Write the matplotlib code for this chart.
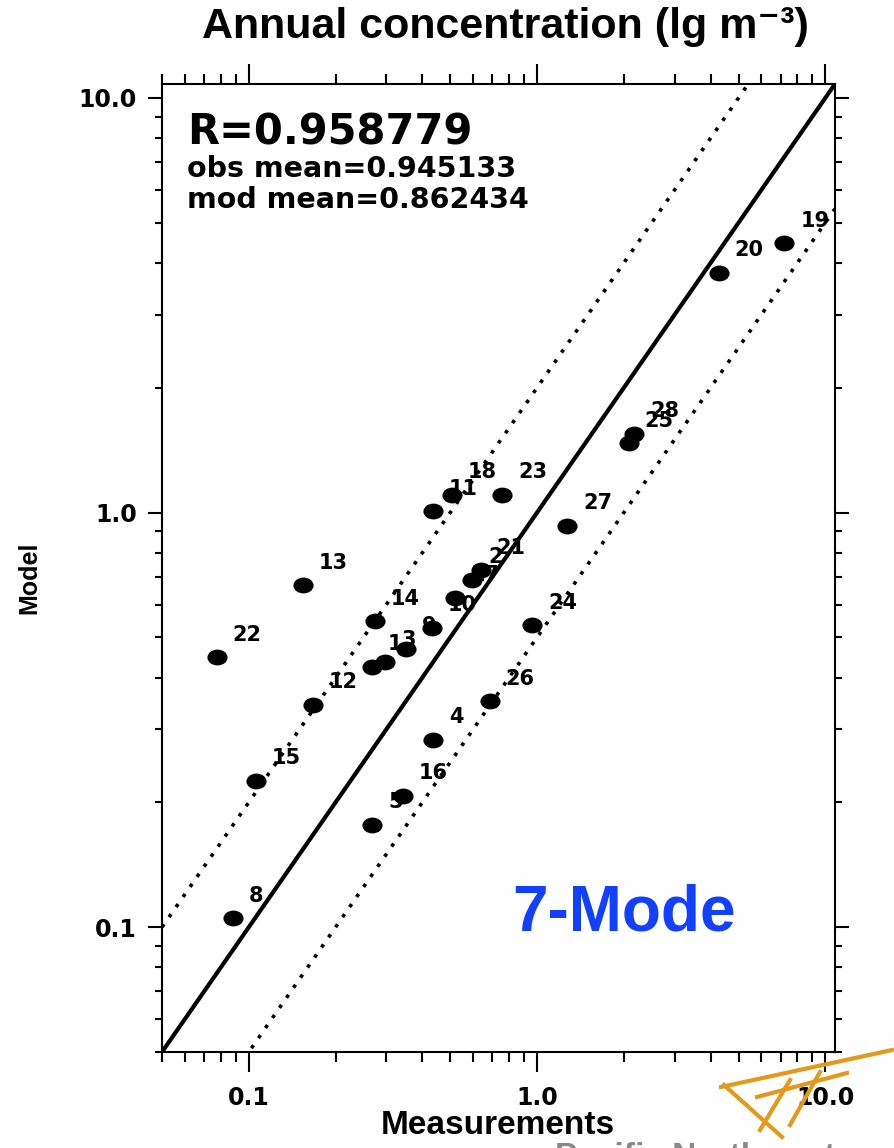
"""Annual concentration scatter — model vs measurements, 7-Mode."""

import matplotlib

matplotlib.use("Agg")
import matplotlib.pyplot as plt
import numpy as np
from matplotlib.path import Path
from matplotlib.ticker import FixedLocator, LogLocator, NullFormatter
from matplotlib.transforms import Affine2D

# site numbers and values
site_ids = ["19", "20", "28", "25", "27", "23", "18", "11", "13", "22", "14", "10", "17",
            "21", "2", "9", "3", "1", "12", "15", "8", "5", "16", "4", "26", "24"]
measured = [7.20, 4.27, 2.17, 2.08, 1.275, 0.756, 0.507, 0.435, 0.154, 0.0774, 0.273, 0.432, 0.518,
            0.637, 0.595, 0.350, 0.298, 0.268, 0.167, 0.106, 0.088, 0.268, 0.3425, 0.435, 0.685, 0.961]
modelled = [4.46, 3.79, 1.55, 1.47, 0.930, 1.103, 1.103, 1.006, 0.667, 0.448, 0.546, 0.527, 0.623,
            0.725, 0.688, 0.469, 0.435, 0.425, 0.344, 0.2257, 0.1052, 0.1764, 0.2076, 0.2834, 0.3505, 0.534]

stat_r = 0.958779
obs_mean = 0.945133
mod_mean = 0.862434

axis_lim = [0.05, 10.8]
major_ticks = [0.1, 1.0, 10.0]
major_labels = ["0.1", "1.0", "10.0"]
ratio_lines = [0.5, 2.0]

W, H = 894, 1148
fig = plt.figure(figsize=(W / 100, H / 100), dpi=100)
L, R, T, B = 162, 835, 84, 1052
ax = fig.add_axes([L / W, 1 - B / H, (R - L) / W, (B - T) / H])

ax.set_xscale("log"); ax.set_yscale("log")
ax.set_xlim(axis_lim); ax.set_ylim(axis_lim)

# 1:1 and factor-of-2 lines
ref = np.array(axis_lim)
ax.plot(ref, ref, color="black", lw=3, zorder=2, solid_capstyle="butt")
for f in ratio_lines:
    ax.plot(ref, f * ref, color="black", lw=2.6, ls=(0, (1, 2.4)), zorder=2)

# oval dots (the reference is stretched horizontally)
circ = Path.unit_circle()
oval = Path(Affine2D().scale(1.3, 1.0).transform(circ.vertices), circ.codes)
ax.plot(measured, modelled, ls="none", marker=oval, ms=13.5, color="black", zorder=3)

for sid, x, y in zip(site_ids, measured, modelled):
    ax.annotate(sid, (x, y), xytext=(11.5, 11.9), textcoords="offset points",
                ha="left", va="baseline", fontsize=15, fontweight="bold",
                family="DejaVu Sans", zorder=1)

tick_font = dict(family="DejaVu Sans", fontsize=17, fontweight="bold")
for axis in (ax.xaxis, ax.yaxis):
    axis.set_major_locator(FixedLocator(major_ticks))
    axis.set_minor_locator(LogLocator(base=10, subs=np.arange(2, 10)))
    axis.set_minor_formatter(NullFormatter())
ax.set_xticklabels(major_labels, **tick_font)
ax.set_yticklabels(major_labels, **tick_font)

ax.tick_params(which="both", direction="out", top=True, right=True, width=1.5, color="black")
ax.tick_params(axis="x", which="major", length=14.4, pad=10)
ax.tick_params(axis="x", which="minor", length=7.2)
ax.tick_params(axis="y", which="major", length=10, pad=8)
ax.tick_params(axis="y", which="minor", length=5)
for s in ax.spines.values():
    s.set_linewidth(1.5)

# stats box
ax.text(0.037, 0.937, f"R={stat_r}", transform=ax.transAxes, family="DejaVu Sans",
        fontsize=30, fontweight="bold", va="baseline")
ax.text(0.037, 0.904, f"obs mean={obs_mean}", transform=ax.transAxes, family="DejaVu Sans",
        fontsize=20.5, fontweight="bold", va="baseline")
ax.text(0.037, 0.872, f"mod mean={mod_mean}", transform=ax.transAxes, family="DejaVu Sans",
        fontsize=20.5, fontweight="bold", va="baseline")
ax.text(0.52, 0.126, "7-Mode", transform=ax.transAxes, family="Liberation Sans",
        fontsize=46, fontweight="bold", color="#1240ff", va="baseline")

fig.text(505 / W, 1 - 27 / H, "Annual concentration (lg m⁻³)", ha="center", va="center",
         family=["Liberation Sans", "DejaVu Sans"], fontsize=31, fontweight="bold")
fig.text(498 / W, 1 - 1126 / H, "Measurements", ha="center", va="center",
         family="Liberation Sans", fontsize=24, fontweight="bold")
fig.text(29 / W, 1 - 578 / H, "Model", ha="center", va="center", rotation=90,
         family="Liberation Sans", fontsize=18, fontweight="bold")

# slide watermark remnants (logo strokes + cut-off lab name)
logo = [((721, 1087), (892, 1050)), ((724, 1085), (782, 1137)), ((757, 1097), (847, 1073)),
        ((790, 1080), (760, 1130)), ((820, 1072), (790, 1125))]
for (x0, y0), (x1, y1) in logo:
    fig.add_artist(plt.Line2D([x0 / W, x1 / W], [1 - y0 / H, 1 - y1 / H], color="#e39a1c",
                              lw=3, transform=fig.transFigure))
fig.text(555 / W, 1 - 1166 / H, "Pacific Northwest", color="#8a8a8a", family="Liberation Sans",
         fontsize=24, fontweight="bold", ha="left", va="baseline")

fig.savefig("out.png", dpi=100)
plt.close(fig)
